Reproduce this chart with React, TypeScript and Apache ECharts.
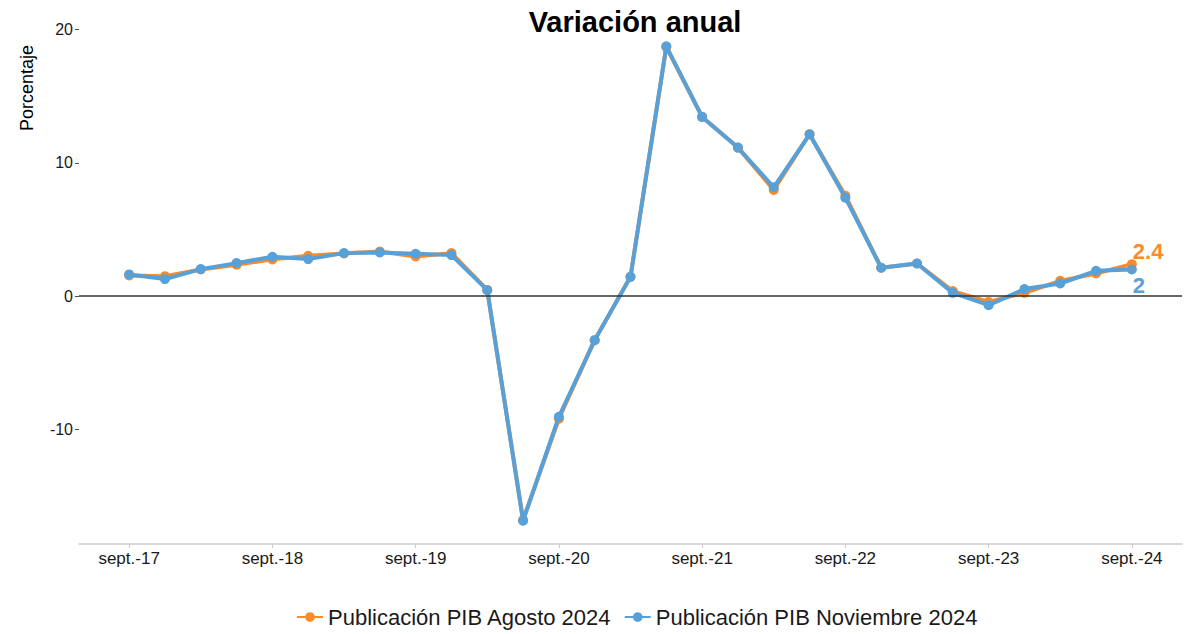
import React, { useEffect, useRef } from "react";
import * as echarts from "echarts";

const categories = [
  "sept.-17", "dic.-17", "mar.-18", "jun.-18",
  "sept.-18", "dic.-18", "mar.-19", "jun.-19",
  "sept.-19", "dic.-19", "mar.-20", "jun.-20",
  "sept.-20", "dic.-20", "mar.-21", "jun.-21",
  "sept.-21", "dic.-21", "mar.-22", "jun.-22",
  "sept.-22", "dic.-22", "mar.-23", "jun.-23",
  "sept.-23", "dic.-23", "mar.-24", "jun.-24",
  "sept.-24",
];

const agosto2024 = [
  1.55, 1.5, 2.0, 2.36, 2.76, 3.03, 3.2, 3.35, 2.98, 3.23,
  0.47, -16.8, -9.2, -3.3, 1.45, 18.7, 13.45, 11.15, 7.97, 12.15,
  7.54, 2.13, 2.45, 0.38, -0.43, 0.25, 1.15, 1.7, 2.4,
];

const noviembre2024 = [
  1.63, 1.28, 2.03, 2.48, 2.96, 2.78, 3.23, 3.28, 3.18, 3.08,
  0.45, -16.85, -9.05, -3.3, 1.45, 18.75, 13.45, 11.15, 8.17, 12.15,
  7.39, 2.13, 2.45, 0.25, -0.68, 0.53, 0.95, 1.9, 2.0,
];

const xTickIndices = [0, 4, 8, 12, 16, 20, 24, 28];
const yTicks = [-10, 0, 10, 20];

const ORANGE = "#F98B2A";
const BLUE = "#58A0D8";
const FONT = "Liberation Sans, Arial, sans-serif";

export default function App() {
  const ref = useRef<HTMLDivElement>(null);

  useEffect(() => {
    if (!ref.current) return;
    const chart = echarts.init(ref.current, undefined, { renderer: "svg" });

    const toPairs = (arr: number[], lastLabel: any) =>
      arr.map((v, i) =>
        i === arr.length - 1
          ? { value: [i, v], label: lastLabel }
          : { value: [i, v] }
      );

    chart.setOption({
      animation: false,
      backgroundColor: "#ffffff",
      title: {
        text: "Variación anual",
        left: 630,
        textAlign: "center",
        top: 2,
        textStyle: { fontFamily: FONT, fontSize: 29, fontWeight: "bold", color: "#000" },
      },
      legend: {
        bottom: 1,
        left: 291,
        itemWidth: 26,
        itemHeight: 12,
        itemGap: 12,
        textStyle: { fontFamily: FONT, fontSize: 22, color: "#1a1a1a" },
        data: ["Publicación PIB Agosto 2024", "Publicación PIB Noviembre 2024"],
      },
      grid: { left: 79, right: 17, top: 23, bottom: 90, containLabel: false },
      xAxis: {
        type: "value",
        min: -1.4,
        max: 29.4,
        splitLine: { show: false },
        axisLine: { show: true, onZero: false, lineStyle: { color: "#cccccc", width: 1.5 } },
        axisTick: {
          show: true,
          customValues: xTickIndices,
          length: 4,
          lineStyle: { color: "#cccccc" },
        },
        axisLabel: {
          customValues: xTickIndices,
          formatter: (v: number) => categories[Math.round(v)] ?? "",
          fontFamily: FONT,
          fontSize: 17,
          color: "#1a1a1a",
          margin: 6,
        },
      },
      yAxis: {
        type: "value",
        min: -18.6,
        max: 20.5,
        splitLine: { show: false },
        axisLine: { show: false, onZero: false },
        axisTick: {
          show: true,
          customValues: yTicks,
          length: 4,
          lineStyle: { color: "#4d4d4d" },
        },
        axisLabel: {
          customValues: yTicks,
          fontFamily: FONT,
          fontSize: 16,
          color: "#1a1a1a",
          margin: 6,
        },
      },
      graphic: [
        {
          type: "text",
          x: 27,
          y: 88,
          rotation: Math.PI / 2,
          style: {
            text: "Porcentaje",
            fontFamily: FONT,
            fontSize: 18,
            fill: "#000",
            align: "center",
            verticalAlign: "middle",
          },
        },
      ],
      series: [
        {
          name: "Publicación PIB Agosto 2024",
          type: "line",
          color: ORANGE,
          symbol: "circle",
          symbolSize: 10,
          lineStyle: { width: 4, color: ORANGE },
          itemStyle: { color: ORANGE },
          z: 2,
          data: toPairs(agosto2024, {
            show: true,
            position: "right",
            offset: [-9, -13],
            formatter: "2.4",
            fontFamily: FONT,
            fontSize: 22,
            fontWeight: "bold",
            color: ORANGE,
          }),
          markLine: {
            silent: true,
            symbol: "none",
            label: { show: false },
            lineStyle: { color: "#333333", width: 1.5, type: "solid" },
            data: [{ yAxis: 0 }],
          },
        },
        {
          name: "Publicación PIB Noviembre 2024",
          type: "line",
          color: BLUE,
          symbol: "circle",
          symbolSize: 10,
          lineStyle: { width: 4, color: BLUE },
          itemStyle: { color: BLUE },
          z: 3,
          data: toPairs(noviembre2024, {
            show: true,
            position: "right",
            offset: [-9, 16],
            formatter: "2",
            fontFamily: FONT,
            fontSize: 22,
            fontWeight: "bold",
            color: BLUE,
          }),
        },
      ],
    });

    return () => chart.dispose();
  }, []);

  return <div ref={ref} style={{ width: 1199, height: 634, position: "absolute", left: 0, top: 0 }} />;
}
